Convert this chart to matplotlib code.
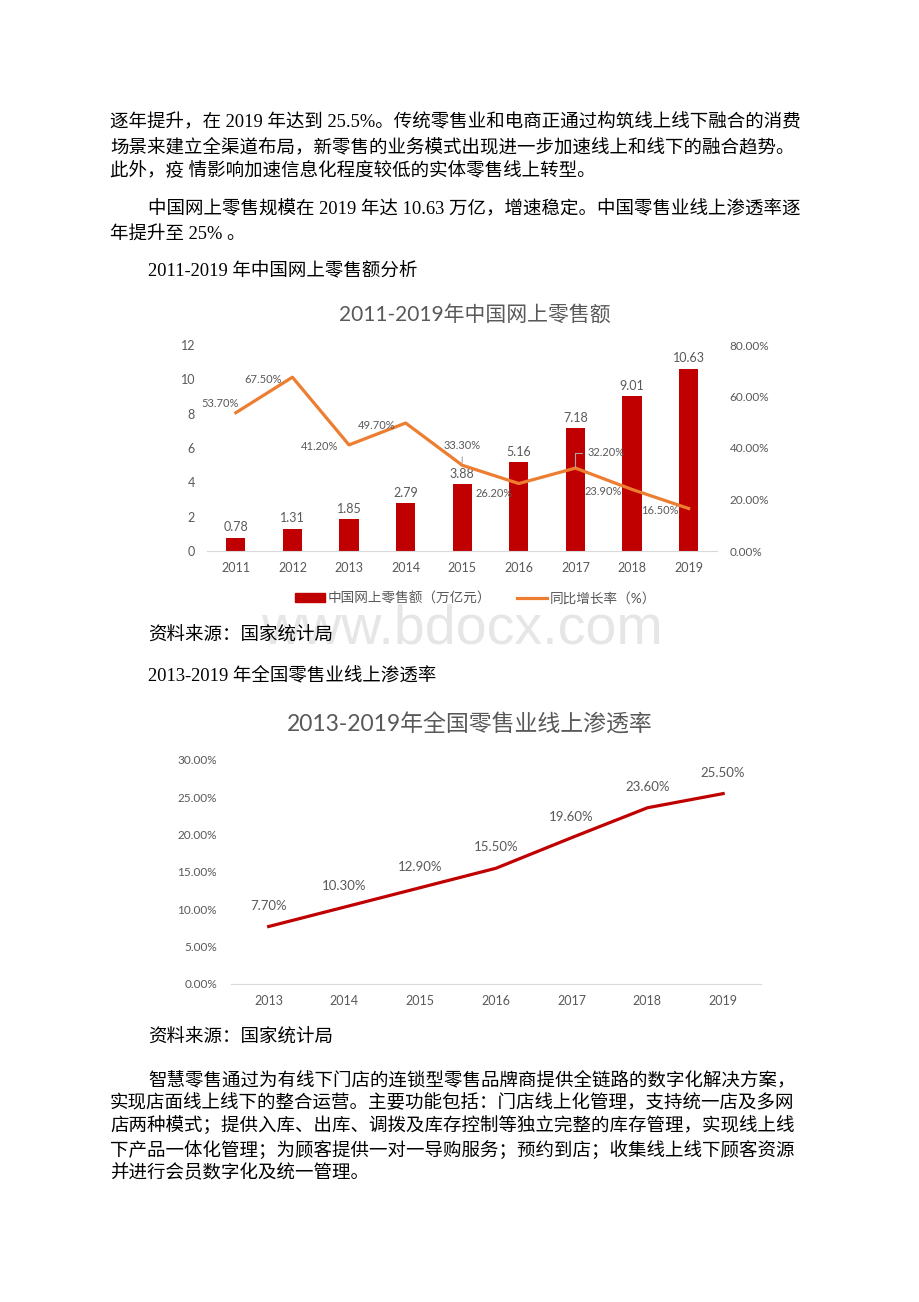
import matplotlib.pyplot as plt
from matplotlib.patches import Patch
from matplotlib.lines import Line2D

# chart data
years = ['2011', '2012', '2013', '2014', '2015', '2016', '2017', '2018', '2019']
sales = [0.78, 1.31, 1.85, 2.79, 3.88, 5.16, 7.18, 9.01, 10.63]   # 万亿元
growth = [53.7, 67.5, 41.2, 49.7, 33.3, 26.2, 32.2, 23.9, 16.5]   # %
pen_years = ['2013', '2014', '2015', '2016', '2017', '2018', '2019']
penetration = [7.7, 10.3, 12.9, 15.5, 19.6, 23.6, 25.5]           # %

# page text
para1 = ['逐年提升，在 2019 年达到 25.5%。传统零售业和电商正通过构筑线上线下融合的消费',
         '场景来建立全渠道布局，新零售的业务模式出现进一步加速线上和线下的融合趋势。',
         '此外，疫 情影响加速信息化程度较低的实体零售线上转型。']
para2 = ['中国网上零售规模在 2019 年达 10.63 万亿，增速稳定。中国零售业线上渗透率逐',
         '年提升至 25% 。']
para3 = ['智慧零售通过为有线下门店的连锁型零售品牌商提供全链路的数字化解决方案，',
         '实现店面线上线下的整合运营。主要功能包括：门店线上化管理，支持统一店及多网',
         '店两种模式；提供入库、出库、调拨及库存控制等独立完整的库存管理，实现线上线',
         '下产品一体化管理；为顾客提供一对一导购服务；预约到店；收集线上线下顾客资源',
         '并进行会员数字化及统一管理。']

RED = '#C00000'
ORANGE = '#ED7D31'
GRAY = '#595959'
CHART_FONT = ['Lato', 'Noto Sans CJK SC']
BODY_FONT = ['Liberation Serif', 'Noto Sans CJK SC']
plt.rcParams['font.family'] = CHART_FONT

W, H = 920, 1302


def box(l, t, r, b):
    # pixel box -> figure fraction rect
    return [l / W, 1 - b / H, (r - l) / W, (b - t) / H]


def body(x, y, s, **kw):
    fig.text(x / W, 1 - y / H, s, ha='left', va='center', fontsize=13.3,
             family=BODY_FONT, color='black', **kw)


fig = plt.figure(figsize=(W / 100, H / 100), dpi=100)

# %%
# body text above the charts
for i, line in enumerate(para1):
    body(110, 123 + 24 * i, line)
body(148, 210, para2[0])
body(110, 234, para2[1])
body(148, 271, '2011-2019 年中国网上零售额分析')

# watermark
fig.text(462 / W, 1 - 630 / H, 'www.bdocx.com', ha='center', va='center',
         fontsize=40, family='Liberation Sans', color='#E6E6E6', zorder=0)

# %%
# chart 1: online retail sales + growth
ax1 = fig.add_axes(box(207.5, 345, 717, 551))
ax1.set_facecolor('none')
xs = list(range(len(years)))
bars = ax1.bar(xs, sales, width=0.34, color=RED, zorder=2)
ax1.bar_label(bars, labels=[f'{v:.2f}' for v in sales], padding=3,
              fontsize=9, color=GRAY)
ax1.set_xlim(-0.5, len(years) - 0.5)
ax1.set_ylim(0, 12)
ax1.set_yticks(range(0, 13, 2))
ax1.set_xticks(xs, years)
ax1.tick_params(length=0, labelsize=9, colors=GRAY)
ax1.tick_params(axis='y', pad=9)
ax1.tick_params(axis='x', pad=8)
for side in ['top', 'left', 'right']:
    ax1.spines[side].set_visible(False)
ax1.spines['bottom'].set_color('#D9D9D9')

ax2 = ax1.twinx()
ax2.plot(xs, growth, color=ORANGE, lw=2.3, zorder=3)
ax2.set_ylim(0, 80)
ax2.set_yticks(range(0, 81, 20))
ax2.set_yticklabels([f'{v:.2f}%' for v in range(0, 81, 20)])
ax2.tick_params(length=0, labelsize=8.5, colors=GRAY, pad=9)
for side in ['top', 'left', 'right', 'bottom']:
    ax2.spines[side].set_visible(False)

growth_offsets = [(-11, 7), (-21, -1.5), (-21, -1.5), (-21, -1.5), (0, 14),
                  (-18, -7), (22, 11), (-21, -1.5), (-21, -1.5)]
for i, (v, off) in enumerate(zip(growth, growth_offsets)):
    arrow = None
    if i == 4:
        arrow = dict(arrowstyle='-', color='#A6A6A6', lw=0.8, shrinkB=2)
    elif i == 6:
        arrow = dict(arrowstyle='-', color='#A6A6A6', lw=0.8, shrinkB=1,
                     connectionstyle='angle,angleA=0,angleB=90,rad=0')
    ax2.annotate(f'{v:.2f}%', (i, v), xytext=off, textcoords='offset points',
                 ha='center', va='center', fontsize=8, color=GRAY,
                 arrowprops=arrow, zorder=4)

fig.text(475 / W, 1 - 315 / H, '2011-2019年中国网上零售额', ha='center',
         va='center', fontsize=15, color=GRAY)

fig.legend(handles=[Patch(color=RED), Line2D([], [], color=ORANGE, lw=2.3)],
           labels=['中国网上零售额（万亿元）', '同比增长率（%）'],
           loc='center', bbox_to_anchor=(476 / W, 1 - 598 / H), ncol=2,
           frameon=False, fontsize=9.8, labelcolor=GRAY, handlelength=2.2,
           handleheight=0.6, handletextpad=0.2, columnspacing=1.9)

# %%
# middle text
body(148, 636, '资料来源：国家统计局')
body(148, 676, '2013-2019 年全国零售业线上渗透率')

# %%
# chart 2: online penetration
ax3 = fig.add_axes(box(230.8, 760, 761, 984))
ax3.set_facecolor('none')
px = list(range(len(pen_years)))
ax3.plot(px, penetration, color=RED, lw=2.3)
for i, v in enumerate(penetration):
    ax3.annotate(f'{v:.2f}%', (i, v), xytext=(0, 15), textcoords='offset points',
                 ha='center', va='center', fontsize=9.5, color=GRAY)
ax3.set_xlim(-0.5, len(pen_years) - 0.5)
ax3.set_ylim(0, 30)
ax3.set_yticks(range(0, 31, 5))
ax3.set_yticklabels([f'{v:.2f}%' for v in range(0, 31, 5)])
ax3.set_xticks(px, pen_years)
ax3.tick_params(length=0, labelsize=9, colors=GRAY)
ax3.tick_params(axis='y', pad=10, labelsize=8.5)
ax3.tick_params(axis='x', pad=8)
for side in ['top', 'left', 'right']:
    ax3.spines[side].set_visible(False)
ax3.spines['bottom'].set_color('#D9D9D9')

fig.text(470 / W, 1 - 725 / H, '2013-2019年全国零售业线上渗透率', ha='center',
         va='center', fontsize=16.5, color=GRAY)

# %%
# text below
body(148, 1038, '资料来源：国家统计局')
body(148, 1080, para3[0])
for i, line in enumerate(para3[1:]):
    body(110, 1103.5 + 23.3 * i, line)

fig.savefig('out.png', dpi=100, facecolor='white')
